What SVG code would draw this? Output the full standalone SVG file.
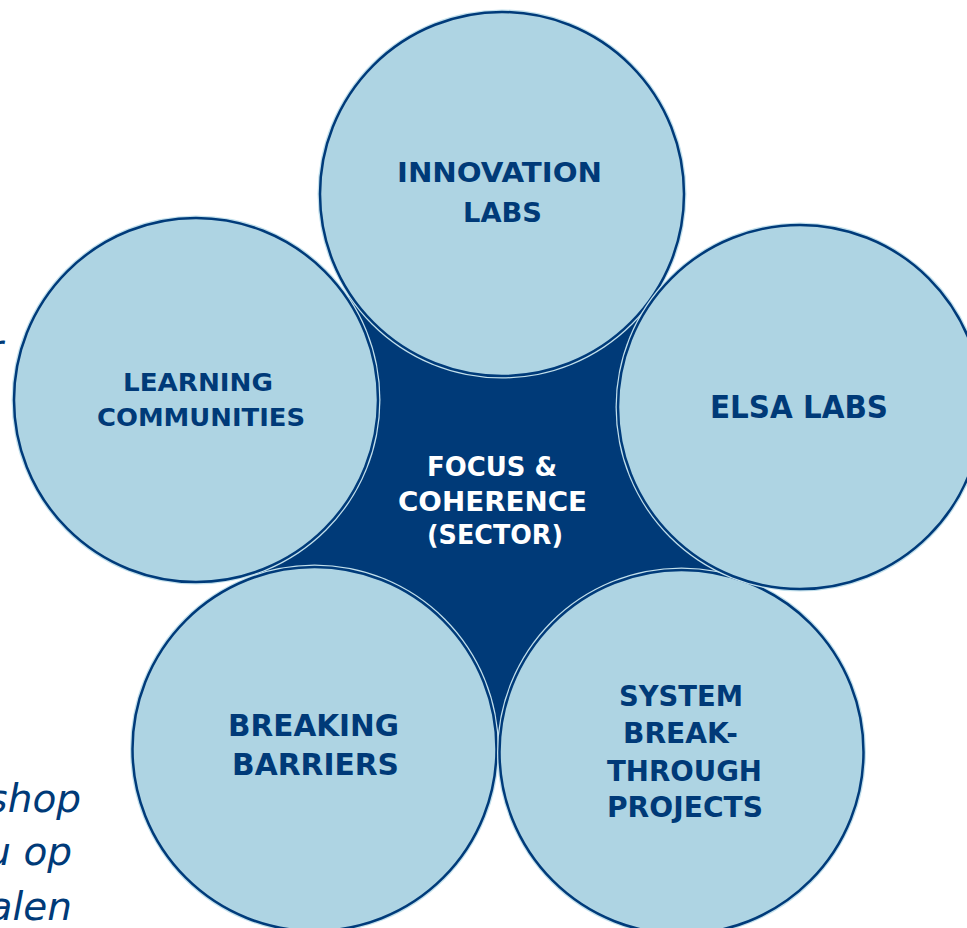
<svg xmlns="http://www.w3.org/2000/svg" width="967" height="928" viewBox="0 0 967 928">
<style>
.glow{fill:#c2e0ec;stroke:none}
.c{fill:#aed4e3;stroke:#003b7a;stroke-width:2.5}
.t{font-family:"DejaVu Sans","Verdana",sans-serif;font-weight:bold;fill:#003a78;text-anchor:middle}
.w{font-family:"DejaVu Sans","Verdana",sans-serif;font-weight:bold;fill:#ffffff;text-anchor:middle}
.it{font-family:"DejaVu Sans","Verdana",sans-serif;font-style:italic;fill:#003a78;text-anchor:end;font-size:39px}
</style>
<rect width="967" height="928" fill="#ffffff"/>
<g id="side-text">
<text class="it" x="3" y="362">r</text>
<text class="it" x="81" y="812">shop</text>
<text class="it" x="72" y="865">u op</text>
<text class="it" x="72" y="920">alen</text>
</g>
<g id="center">
<polygon points="349,297 651,300 741,580 498,750 255,574" fill="#003a78"/>
</g>
<g id="learning">
<circle class="glow" cx="196" cy="400" r="184.5"/>
<circle class="c" cx="196" cy="400" r="182"/>
<text class="t" font-size="25" x="198" y="391" textLength="150" lengthAdjust="spacingAndGlyphs">LEARNING</text>
<text class="t" font-size="25" x="201" y="426" textLength="208" lengthAdjust="spacingAndGlyphs">COMMUNITIES</text>
</g>
<g id="innovation">
<circle class="glow" cx="502" cy="194" r="184.5"/>
<circle class="c" cx="502" cy="194" r="182"/>
<text class="t" font-size="27" x="499.5" y="182" textLength="205" lengthAdjust="spacingAndGlyphs">INNOVATION</text>
<text class="t" font-size="27" x="502.5" y="222" textLength="79" lengthAdjust="spacingAndGlyphs">LABS</text>
</g>
<g id="breaking">
<circle class="glow" cx="314.5" cy="749" r="184.5"/>
<circle class="c" cx="314.5" cy="749" r="182"/>
<text class="t" font-size="30" x="313.5" y="736" textLength="171" lengthAdjust="spacingAndGlyphs">BREAKING</text>
<text class="t" font-size="30" x="315.5" y="775" textLength="167" lengthAdjust="spacingAndGlyphs">BARRIERS</text>
</g>
<g id="system">
<circle class="glow" cx="681.5" cy="752" r="184.5"/>
<circle class="c" cx="681.5" cy="752" r="182"/>
<text class="t" font-size="29" x="681" y="706" textLength="124" lengthAdjust="spacingAndGlyphs">SYSTEM</text>
<text class="t" font-size="29" x="680.5" y="743" textLength="115" lengthAdjust="spacingAndGlyphs">BREAK-</text>
<text class="t" font-size="29" x="684.5" y="781" textLength="155" lengthAdjust="spacingAndGlyphs">THROUGH</text>
<text class="t" font-size="29" x="685" y="817" textLength="156" lengthAdjust="spacingAndGlyphs">PROJECTS</text>
</g>
<g id="elsa">
<circle class="glow" cx="800" cy="407" r="184.5"/>
<circle class="c" cx="800" cy="407" r="182"/>
<text class="t" font-size="32" x="799" y="418" textLength="178" lengthAdjust="spacingAndGlyphs">ELSA LABS</text>
</g>
<g id="focus-label">
<text class="w" font-size="27" x="492" y="476" textLength="130" lengthAdjust="spacingAndGlyphs">FOCUS &amp;</text>
<text class="w" font-size="27" x="492.5" y="511" textLength="189" lengthAdjust="spacingAndGlyphs">COHERENCE</text>
<text class="w" font-size="27" x="495" y="544" textLength="136" lengthAdjust="spacingAndGlyphs">(SECTOR)</text>
</g>
</svg>
